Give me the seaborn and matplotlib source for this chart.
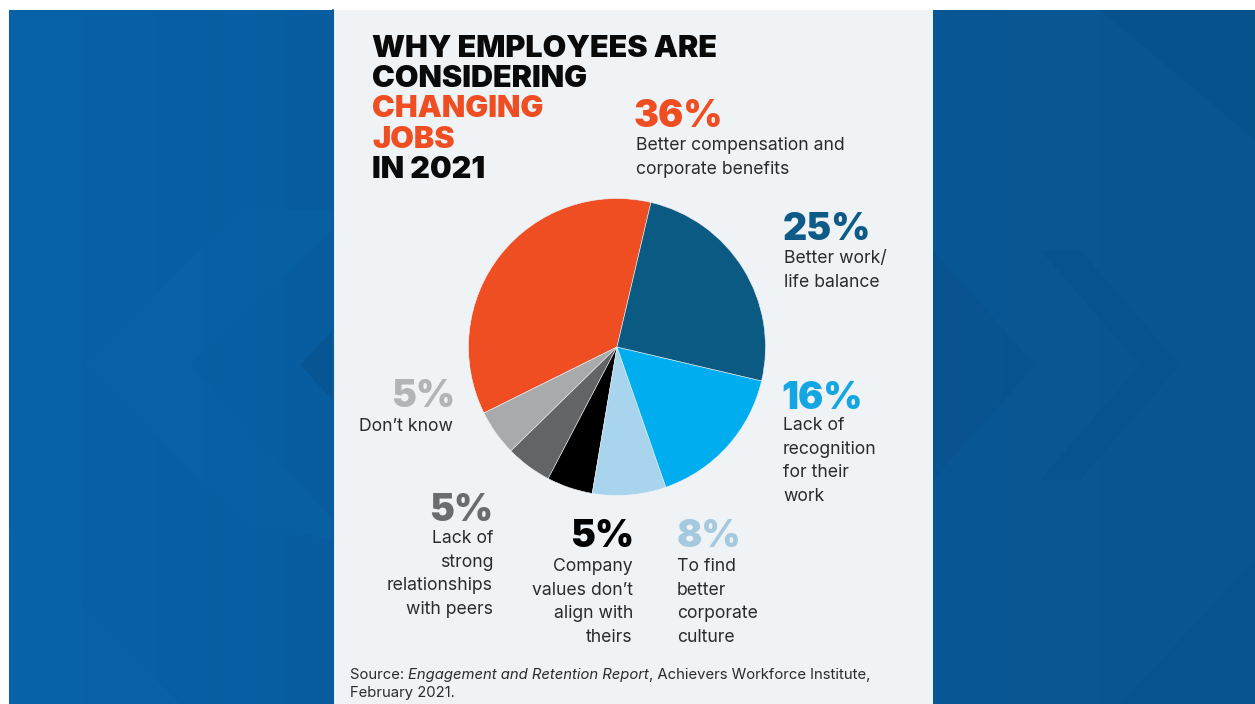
import matplotlib.pyplot as plt
import matplotlib.patches as mpatches
import numpy as np
import seaborn as sns

# Data
shares = [36, 5, 5, 5, 8, 16, 25]
pct_labels = ["36%", "5%", "5%", "5%", "8%", "16%", "25%"]
reasons = [
    "Better compensation and\ncorporate benefits",
    "Don’t know",
    "Lack of\nstrong\nrelationships\nwith peers",
    "Company\nvalues don’t\nalign with\ntheirs",
    "To find\nbetter\ncorporate\nculture",
    "Lack of\nrecognition\nfor their\nwork",
    "Better work/\nlife balance",
]
slice_colors = ["#ef4e23", "#a9aaac", "#636466", "#000000", "#a8d4ee", "#00aeef", "#0b5a84"]
pct_colors = ["#ef4e23", "#b3b4b6", "#6b6c6f", "#000000", "#a5c9df", "#14a6e2", "#0d5b86"]

title_lines = ["WHY EMPLOYEES ARE", "CONSIDERING", "CHANGING", "JOBS", "IN 2021"]
title_colors = ["#0a0a0a", "#0a0a0a", "#ef4e23", "#ef4e23", "#0a0a0a"]

# layout (pixel coords): pct anchor x, pct baseline, ha, text anchor x, first text baseline
layout = [
    (634, 127, "left", 636, 150),
    (455, 407, "right", 453, 431),
    (493, 521, "right", 493, 543),
    (634, 547, "right", 633, 571),
    (677, 547, "left", 677, 571),
    (781, 409, "left", 783, 430),
    (783, 240, "left", 784, 263),
]

sns.set_theme(style="white")
plt.rcParams['font.family'] = ['Inter', 'DejaVu Sans']

W, H = 1255, 704
fig = plt.figure(figsize=(W / 100, H / 100), dpi=100, facecolor="white")
bg = fig.add_axes([0, 0, 1, 1])
bg.set_xlim(0, W)
bg.set_ylim(H, 0)
bg.axis("off")

# blue background with gradient
grad = np.linspace(0, 1, 256)[None, :]
cmap = sns.blend_palette(["#0762a7", "#08599a", "#0a5590"], as_cmap=True)
bg.imshow(grad, extent=[9, W, H, 10], cmap=cmap, aspect="auto", zorder=0)

# subtle chevrons
chev_dark = "#07508a"
chev_light = "#0b66ab"
for pts, c, a in [
    ([(85, 365), (240, 210), (333, 210), (333, 230), (190, 365), (333, 520), (333, 540), (240, 520)], chev_light, 0.25),
    ([(9, 530), (180, 704), (9, 704)], chev_light, 0.3),
    ([(300, 365), (333, 330), (333, 400)], chev_dark, 0.6),
    ([(933, 250), (1035, 365), (933, 480)], chev_dark, 0.35),
    ([(1080, 250), (1180, 365), (1080, 480), (1040, 480), (1140, 365), (1040, 250)], chev_dark, 0.35),
    ([(1100, 10), (1255, 10), (1255, 140)], chev_dark, 0.5),
    ([(1255, 560), (1255, 704), (1120, 704)], chev_dark, 0.4),
]:
    bg.add_patch(mpatches.Polygon(pts, closed=True, color=c, alpha=a, lw=0, zorder=1))

# panel
bg.add_patch(mpatches.Rectangle((333, 10), 600, H - 10, color="#eff3f6", lw=0, zorder=2))
bg.plot([333, 333], [10, H], color="#0a5a9c", lw=1.5, zorder=3)

# title
for i, (line, col) in enumerate(zip(title_lines, title_colors)):
    bg.text(372, 57 + i * 30.2, line, color=col, fontsize=22, fontweight="black",
            ha="left", va="baseline", zorder=4)

# pie
cx, cy, r = 617, 347, 150
pax = fig.add_axes([(cx - r) / W, (H - cy - r) / H, 2 * r / W, 2 * r / H])
pax.pie(shares, colors=slice_colors, startangle=76.8, counterclock=True, radius=1,
        wedgeprops=dict(linewidth=0.4, edgecolor="#eff3f6"))
pax.set_xlim(-1.01, 1.01)
pax.set_ylim(-1.01, 1.01)
pax.axis("off")

# labels
for pct, col, text, (px, py, ha, tx, ty) in zip(pct_labels, pct_colors, reasons, layout):
    bg.text(px, py, pct, color=col, fontsize=27, fontweight="black",
            ha=ha, va="baseline", zorder=4)
    for j, line in enumerate(text.split("\n")):
        bg.text(tx, ty + j * 23.6, line, color="#2b2b2b", fontsize=12.7,
                ha=ha, va="baseline", zorder=4)

# source line with italic part
fig.canvas.draw()
renderer = fig.canvas.get_renderer()
x = 350
inv = bg.transData.inverted()
for part, style in [("Source: ", "normal"), ("Engagement and Retention Report", "italic"),
                    (", Achievers Workforce Institute,", "normal")]:
    t = bg.text(x, 679, part, color="#2b2b2b", fontsize=10.7, fontstyle=style,
                ha="left", va="baseline", zorder=4)
    bb = t.get_window_extent(renderer)
    x = inv.transform((bb.x1, bb.y0))[0]
bg.text(350, 697, "February 2021.", color="#2b2b2b", fontsize=10.7,
        ha="left", va="baseline", zorder=4)

fig.savefig("out.png", dpi=100, facecolor="white")
